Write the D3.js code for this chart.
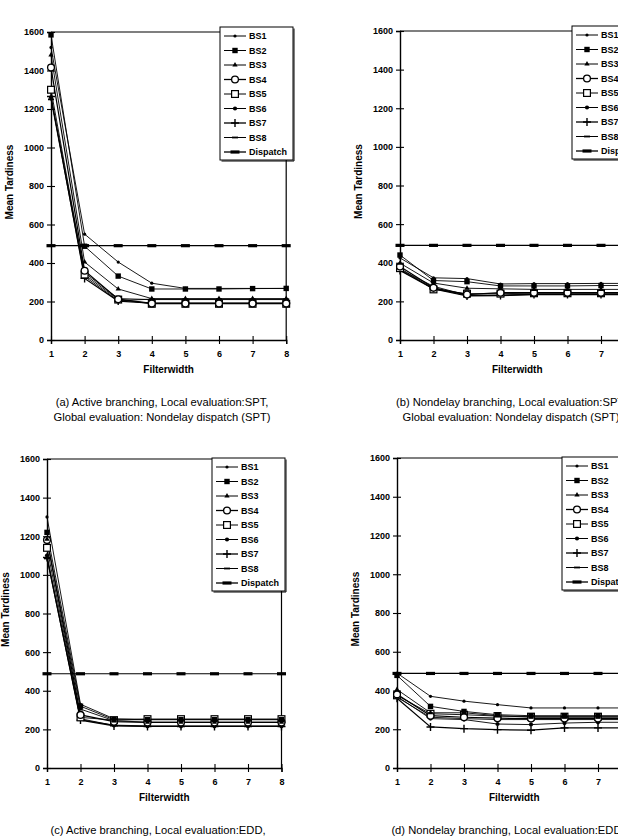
<!DOCTYPE html>
<html><head><meta charset="utf-8">
<script src="https://cdn.jsdelivr.net/npm/d3@7"></script>
<style>
html,body{margin:0;padding:0;background:#fff;}
svg{display:block;font-family:"Liberation Sans",Arial,sans-serif;}
</style></head>
<body>
<svg id="chart" width="618" height="837"></svg>
<script>
// ---------------- data ----------------
const filterwidths = [1, 2, 3, 4, 5, 6, 7, 8];
const seriesNames = ["BS1", "BS2", "BS3", "BS4", "BS5", "BS6", "BS7", "BS8"];
const yTicks = [0, 200, 400, 600, 800, 1000, 1200, 1400, 1600];

// (a) Active branching, Local SPT
const panelA_values = [
  [1520, 550, 405, 295, 268, 268, 268, 268],
  [1585, 487, 332, 265, 265, 265, 267, 268],
  [1480, 405, 265, 215, 215, 215, 215, 215],
  [1415, 360, 212, 190, 190, 190, 190, 190],
  [1300, 340, 210, 188, 188, 188, 188, 188],
  [1260, 350, 215, 210, 210, 210, 210, 210],
  [1265, 320, 202, 192, 192, 192, 192, 192],
  [1250, 330, 205, 212, 212, 212, 212, 212]
];
const panelA_dispatch = [490, 490, 490, 490, 490, 490, 490, 490];

// (b) Nondelay branching, Local SPT
const panelB_values = [
  [425, 322, 318, 290, 292, 292, 293, 293],
  [440, 308, 302, 280, 280, 280, 282, 282],
  [398, 295, 268, 265, 262, 262, 262, 262],
  [380, 270, 235, 245, 245, 245, 245, 245],
  [372, 262, 240, 240, 242, 242, 242, 242],
  [365, 278, 232, 232, 236, 236, 236, 236],
  [360, 265, 228, 230, 235, 235, 235, 235],
  [362, 268, 230, 232, 238, 238, 238, 238]
];
const panelB_dispatch = [490, 490, 490, 490, 490, 490, 490, 490];

// (c) Active branching, Local EDD
const panelC_values = [
  [1300, 330, 255, 252, 252, 252, 252, 252],
  [1220, 320, 250, 250, 250, 250, 250, 250],
  [1185, 305, 245, 237, 237, 237, 237, 237],
  [1180, 275, 240, 236, 236, 236, 236, 236],
  [1140, 262, 248, 253, 253, 253, 253, 253],
  [1100, 255, 220, 216, 216, 216, 216, 216],
  [1090, 248, 218, 215, 215, 215, 215, 215],
  [1085, 250, 222, 218, 218, 218, 218, 218]
];
const panelC_dispatch = [488, 488, 488, 488, 488, 488, 488, 488];

// (d) Nondelay branching, Local EDD
const panelD_values = [
  [490, 370, 345, 327, 310, 310, 310, 310],
  [478, 318, 292, 275, 270, 270, 270, 270],
  [405, 285, 285, 270, 262, 262, 262, 262],
  [380, 270, 262, 257, 255, 255, 255, 255],
  [375, 280, 275, 268, 265, 265, 265, 265],
  [370, 255, 250, 227, 224, 232, 236, 236],
  [360, 212, 203, 198, 195, 207, 207, 207],
  [365, 262, 255, 250, 250, 250, 250, 250]
];
const panelD_dispatch = [488, 488, 488, 488, 488, 488, 488, 488];

const captionsA = ["(a) Active branching, Local evaluation:SPT,", "Global evaluation: Nondelay dispatch (SPT)"];
const captionsB = ["(b) Nondelay branching, Local evaluation:SPT,", "Global evaluation: Nondelay dispatch (SPT)"];
const captionsC = ["(c) Active branching, Local evaluation:EDD,", "Global evaluation: Nondelay dispatch (EDD)"];
const captionsD = ["(d) Nondelay branching, Local evaluation:EDD,", "Global evaluation: Nondelay dispatch (EDD)"];

// ---------------- layout ----------------
const panels = [
  {values: panelA_values, dispatch: panelA_dispatch, captions: captionsA, x0: 51, step: 33.6, yTop: 32, yBot: 340, leg: [220, 27]},
  {values: panelB_values, dispatch: panelB_dispatch, captions: captionsB, x0: 400, step: 33.5, yTop: 31, yBot: 340, leg: [572, 26]},
  {values: panelC_values, dispatch: panelC_dispatch, captions: captionsC, x0: 47, step: 33.5, yTop: 459, yBot: 768, leg: [212, 458]},
  {values: panelD_values, dispatch: panelD_dispatch, captions: captionsD, x0: 397, step: 33.5, yTop: 458, yBot: 768, leg: [562, 457]}
];

const svg = d3.select("#chart");

function drawMarker(g, type, cx, cy) {
  switch (type) {
    case "BS1":
      g.append("circle").attr("cx", cx).attr("cy", cy).attr("r", 1.6).attr("fill", "#000"); break;
    case "BS2":
      g.append("rect").attr("x", cx - 2.7).attr("y", cy - 2.7).attr("width", 5.4).attr("height", 5.4).attr("fill", "#000"); break;
    case "BS3":
      g.append("path").attr("d", d3.symbol(d3.symbolTriangle, 12)()).attr("transform", `translate(${cx},${cy})`).attr("fill", "#000"); break;
    case "BS4":
      g.append("circle").attr("cx", cx).attr("cy", cy).attr("r", 3.4).attr("fill", "#fff").attr("stroke", "#000").attr("stroke-width", 1.3); break;
    case "BS5":
      g.append("rect").attr("x", cx - 3.4).attr("y", cy - 3.4).attr("width", 6.8).attr("height", 6.8).attr("fill", "#fff").attr("stroke", "#000").attr("stroke-width", 1.2); break;
    case "BS6":
      g.append("circle").attr("cx", cx).attr("cy", cy).attr("r", 2.1).attr("fill", "#000"); break;
    case "BS7":
      g.append("path").attr("d", `M${cx - 4},${cy}H${cx + 4}M${cx},${cy - 4}V${cy + 4}`).attr("stroke", "#000").attr("stroke-width", 1.4); break;
    case "BS8":
      g.append("rect").attr("x", cx - 3).attr("y", cy - 0.9).attr("width", 6).attr("height", 1.8).attr("fill", "#000"); break;
    case "Dispatch":
      g.append("rect").attr("x", cx - 4.5).attr("y", cy - 1.6).attr("width", 9).attr("height", 3.2).attr("fill", "#000"); break;
  }
}

panels.forEach(p => {
  const x = d3.scaleLinear().domain([1, 8]).range([p.x0, p.x0 + 7 * p.step]);
  const y = d3.scaleLinear().domain([0, 1600]).range([p.yBot, p.yTop]);
  const g = svg.append("g");

  // frame (top and right borders)
  g.append("path")
    .attr("d", `M${x(1)},${y(1600)}H${x(8)}V${y(0)}`)
    .attr("fill", "none").attr("stroke", "#000").attr("stroke-width", 1.2);

  // y axis
  const yAxis = d3.axisLeft(y).tickValues(yTicks).tickSize(4).tickFormat(d3.format("d"));
  const ya = g.append("g").attr("transform", `translate(${x(1)},0)`).call(yAxis);
  ya.select(".domain").attr("stroke-width", 1.4);
  ya.selectAll(".tick line").attr("x2", -4).attr("x1", 4).attr("stroke-width", 1.1);
  ya.selectAll(".tick text").attr("x", -7).attr("font-size", 9).attr("font-weight", "bold")
    .attr("font-family", "'Liberation Sans',Arial,sans-serif");

  // x axis
  const xAxis = d3.axisBottom(x).tickValues(filterwidths).tickSize(4).tickFormat(d3.format("d"));
  const xa = g.append("g").attr("transform", `translate(0,${y(0)})`).call(xAxis);
  xa.select(".domain").attr("stroke-width", 1.4);
  xa.selectAll(".tick line").attr("y1", -4).attr("y2", 4).attr("stroke-width", 1.1);
  xa.selectAll(".tick text").attr("y", 11).attr("font-size", 9).attr("font-weight", "bold")
    .attr("font-family", "'Liberation Sans',Arial,sans-serif");
  ya.selectAll(".domain, .tick line").attr("stroke", "#000");
  xa.selectAll(".domain, .tick line").attr("stroke", "#000");

  // axis titles
  g.append("text").attr("transform", `translate(${x(1) - 38},${(p.yTop + p.yBot) / 2 - 4}) rotate(-90)`)
    .attr("text-anchor", "middle").attr("font-size", 10).attr("font-weight", "bold").text("Mean Tardiness");
  g.append("text").attr("x", (x(1) + x(8)) / 2).attr("y", y(0) + 33)
    .attr("text-anchor", "middle").attr("font-size", 10).attr("font-weight", "bold").text("Filterwidth");

  // captions
  p.captions.forEach((c, i) => {
    g.append("text").attr("x", x(1) + 111).attr("y", y(0) + 66 + i * 15)
      .attr("text-anchor", "middle").attr("font-size", 11.2).text(c);
  });

  const line = d3.line().x((d, i) => x(filterwidths[i])).y(d => y(d));

  // dispatch line
  g.append("path").attr("d", line(p.dispatch)).attr("fill", "none").attr("stroke", "#000").attr("stroke-width", 1.2);
  p.dispatch.forEach((v, i) => drawMarker(g, "Dispatch", x(filterwidths[i]), y(v)));

  // series lines
  p.values.forEach((vals, si) => {
    const w = (seriesNames[si] === "BS4" || seriesNames[si] === "BS7") ? 1.2 : 0.9;
    g.append("path").attr("d", line(vals)).attr("fill", "none").attr("stroke", "#000").attr("stroke-width", w);
  });
  // markers, drawn from last to first so BS1/BS2 stay on top
  for (let si = p.values.length - 1; si >= 0; si--) {
    p.values[si].forEach((v, i) => drawMarker(g, seriesNames[si], x(filterwidths[i]), y(v)));
  }

  // legend
  const [lx, ly] = p.leg;
  const names = seriesNames.concat(["Dispatch"]);
  const lh = 9 + 8 * 14.5 + 8;
  const lw = 73;
  const lg = g.append("g");
  lg.append("rect").attr("x", lx).attr("y", ly).attr("width", lw).attr("height", lh)
    .attr("fill", "#fff").attr("stroke", "#000").attr("stroke-width", 1);
  lg.append("path").attr("d", `M${lx + 1.5},${ly + lh + 1}H${lx + lw + 1}V${ly + 1.5}`)
    .attr("fill", "none").attr("stroke", "#000").attr("stroke-width", 1);
  names.forEach((n, i) => {
    const cy = ly + 9 + i * 14.5;
    lg.append("line").attr("x1", lx + 4).attr("x2", lx + 26).attr("y1", cy).attr("y2", cy)
      .attr("stroke", "#000").attr("stroke-width", (n === "BS4" || n === "BS7" || n === "Dispatch") ? 1.3 : 1);
    drawMarker(lg, n, lx + 15, cy);
    lg.append("text").attr("x", lx + 29).attr("y", cy + 3.2).attr("font-size", 9)
      .attr("font-weight", "bold").text(n);
  });
});
</script>
</body></html>
